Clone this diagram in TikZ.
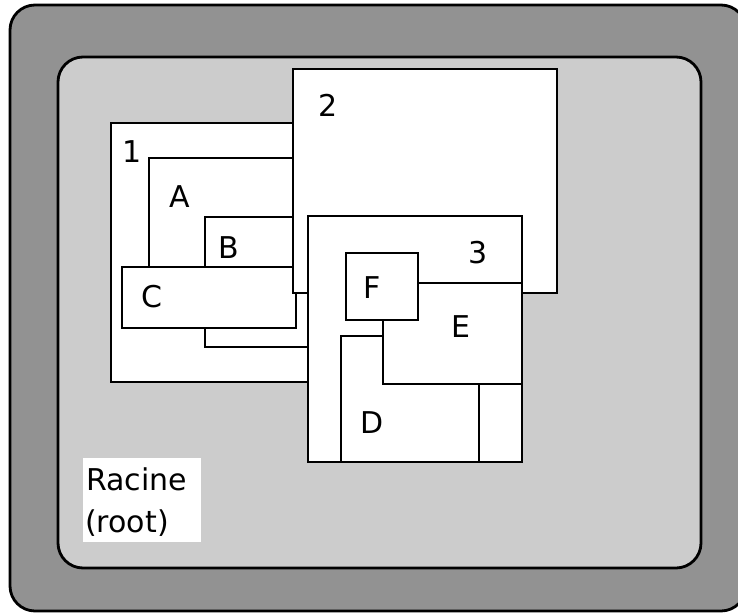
\documentclass[tikz,border=0pt]{standalone}
\usepackage{fontspec}
\setmainfont{DejaVu Sans}
\begin{document}
\begin{tikzpicture}[x=1pt,y=-1pt,
  frame/.style={draw=black,line width=2.8pt,rounded corners=25pt},
  box/.style={draw=black,fill=white,line width=2.8pt},
  lbl/.style={anchor=base,inner sep=0pt,font=\fontsize{30}{36}\selectfont},
  txt/.style={anchor=base west,inner sep=0pt,font=\fontsize{30}{36}\selectfont}]
\useasboundingbox (0,0) rectangle (738,615);
\clip (0,0) rectangle (738,615);
% outer and inner rounded panels
\draw[frame,fill={rgb,255:red,146;green,146;blue,146}] (10,5) rectangle (746,611);
\draw[frame,fill={rgb,255:red,204;green,204;blue,204}] (58,57) rectangle (701,568);
% nested boxes, painted back to front
\draw[box] (111,123) rectangle (330,382);
\node[lbl] (l1) at (132,162) {1};
\draw[box] (149,158) rectangle (310,300);
\node[lbl] (lA) at (180,207) {A};
\draw[box] (205,217) rectangle (330,347);
\node[lbl] (lB) at (229,258) {B};
\draw[box] (122,267) rectangle (296,328);
\node[lbl] (lC) at (152,307) {C};
\draw[box] (293,69) rectangle (557,293);
\node[lbl] (l2) at (328,117) {2};
\draw[box] (308,216) rectangle (522,462);
\node[lbl] (l3) at (478,263) {3};
\draw[box] (341,336) rectangle (479,462);
\node[lbl] (lD) at (372,433) {D};
\draw[box] (383,283) rectangle (522,384);
\node[lbl] (lE) at (461,337) {E};
\draw[box] (346,253) rectangle (418,320);
\node[lbl] (lF) at (372,298) {F};
% root label
\fill[white] (83,458) rectangle (201,542);
\node[txt] (racine) at (86,490) {Racine};
\node[txt] (root) at (85,532) {(root)};
\end{tikzpicture}
\end{document}
